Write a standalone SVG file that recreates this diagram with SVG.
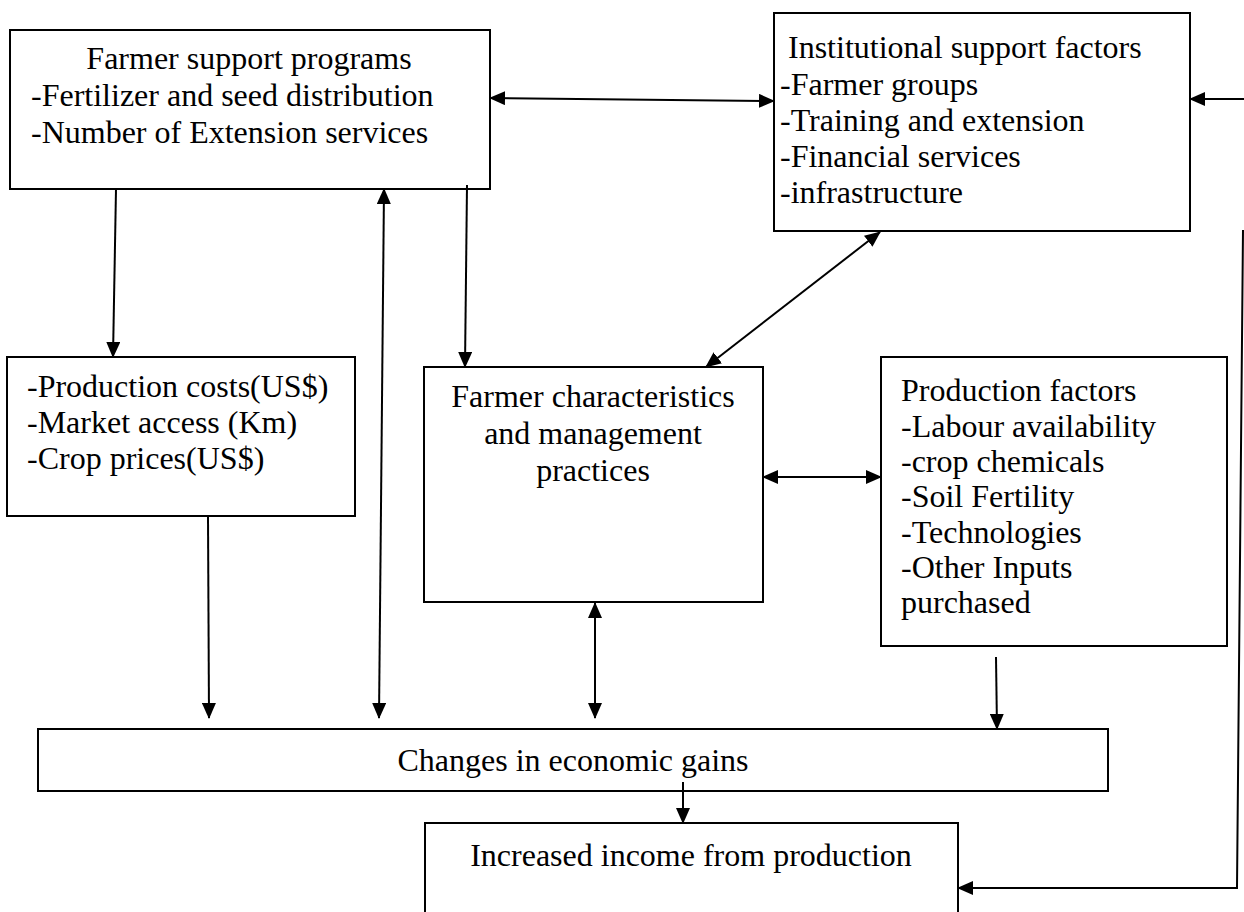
<svg xmlns="http://www.w3.org/2000/svg" width="1244" height="912" viewBox="0 0 1244 912">
<style>
.box{fill:#fff;stroke:#000;stroke-width:2}
.t{font-family:"Liberation Serif","Times New Roman",serif;font-size:32px;fill:#000}
.c{text-anchor:middle}
.ln{fill:none;stroke:#000;stroke-width:2}
</style>
<defs>
<marker id="ah" markerUnits="userSpaceOnUse" markerWidth="16" markerHeight="14" viewBox="0 0 16 14" refX="15" refY="7" orient="auto-start-reverse">
<path d="M0,0 L16,7 L0,14 z" fill="#000"/>
</marker>
</defs>
<rect width="1244" height="912" fill="#fff"/>
<g id="farmer-support">
<rect class="box" x="10" y="30" width="480" height="159"/>
<text class="t c" x="249" y="69">Farmer support programs</text>
<text class="t" x="31" y="106">-Fertilizer and seed distribution</text>
<text class="t" x="31" y="143">-Number of Extension services</text>
</g>
<g id="institutional">
<rect class="box" x="774" y="13" width="416" height="218"/>
<text class="t" x="788" y="58">Institutional support factors</text>
<text class="t" x="780" y="95">-Farmer groups</text>
<text class="t" x="780" y="131">-Training and extension</text>
<text class="t" x="780" y="167">-Financial services</text>
<text class="t" x="780" y="203">-infrastructure</text>
</g>
<g id="production-costs">
<rect class="box" x="7" y="357" width="348" height="159"/>
<text class="t" x="27" y="397">-Production costs(US$)</text>
<text class="t" x="27" y="433">-Market access (Km)</text>
<text class="t" x="27" y="469">-Crop prices(US$)</text>
</g>
<g id="farmer-characteristics">
<rect class="box" x="424" y="367" width="339" height="235"/>
<text class="t c" x="593" y="407">Farmer characteristics</text>
<text class="t c" x="593" y="444">and management</text>
<text class="t c" x="593" y="481">practices</text>
</g>
<g id="production-factors">
<rect class="box" x="881" y="357" width="346" height="289"/>
<text class="t" x="901" y="401">Production factors</text>
<text class="t" x="901" y="437">-Labour availability</text>
<text class="t" x="901" y="472">-crop chemicals</text>
<text class="t" x="901" y="507">-Soil Fertility</text>
<text class="t" x="901" y="543">-Technologies</text>
<text class="t" x="901" y="578">-Other Inputs</text>
<text class="t" x="901" y="613">purchased</text>
</g>
<g id="changes">
<rect class="box" x="38" y="729" width="1070" height="62"/>
<text class="t c" x="573" y="771">Changes in economic gains</text>
</g>
<g id="increased-income">
<rect class="box" x="425" y="823" width="533" height="100"/>
<text class="t c" x="691" y="866">Increased income from production</text>
</g>
<g id="connectors">
<line class="ln" x1="490" y1="98" x2="774" y2="101" marker-start="url(#ah)" marker-end="url(#ah)"/>
<line class="ln" x1="1244" y1="99" x2="1190" y2="99" marker-end="url(#ah)"/>
<polyline class="ln" points="1243,230 1237,888 958,888" marker-end="url(#ah)"/>
<line class="ln" x1="116" y1="189" x2="113" y2="357" marker-end="url(#ah)"/>
<line class="ln" x1="467" y1="185" x2="465" y2="367" marker-end="url(#ah)"/>
<line class="ln" x1="384" y1="189" x2="379" y2="718" marker-start="url(#ah)" marker-end="url(#ah)"/>
<line class="ln" x1="208" y1="517" x2="209" y2="718" marker-end="url(#ah)"/>
<line class="ln" x1="595" y1="603" x2="595" y2="718" marker-start="url(#ah)" marker-end="url(#ah)"/>
<line class="ln" x1="880" y1="232" x2="706" y2="367" marker-start="url(#ah)" marker-end="url(#ah)"/>
<line class="ln" x1="763" y1="477" x2="881" y2="477" marker-start="url(#ah)" marker-end="url(#ah)"/>
<line class="ln" x1="996" y1="657" x2="997" y2="729" marker-end="url(#ah)"/>
<line class="ln" x1="683" y1="782" x2="683" y2="823" marker-end="url(#ah)"/>
</g>
</svg>
